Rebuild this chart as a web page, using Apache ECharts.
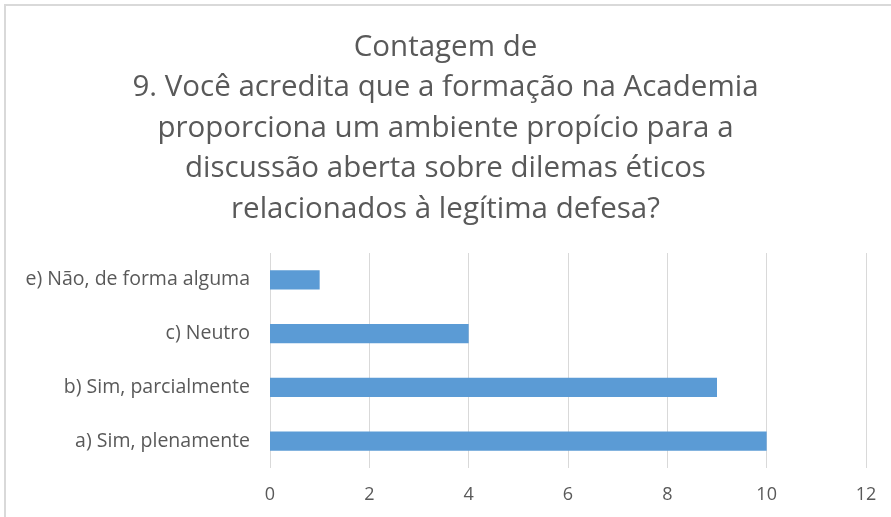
<!DOCTYPE html>
<html>
<head>
<meta charset="utf-8">
<script src="https://cdn.jsdelivr.net/npm/echarts@6/dist/echarts.min.js"></script>
<style>
html, body { margin:0; padding:0; background:#fff; overflow:hidden; }
#frame { position:absolute; left:4px; top:4px; width:900px; height:530px;
	border-left:2px solid #d9d9d9; border-top:2px solid #d9d9d9; }
#chart_panel { position:absolute; left:0; top:0; width:891px; height:517px; }
</style>
</head>
<body>
<div id="frame"></div>
<div id="chart_panel"></div>
<script>
var categories = ['a) Sim, plenamente', 'b) Sim, parcialmente', 'c) Neutro', 'e) Não, de forma alguma'];
var counts = [10, 9, 4, 1];
var xTicks = [0, 12, 2];  // min, max, interval

var titleText = 'Contagem de\n9. Você acredita que a formação na Academia\nproporciona um ambiente propício para a\ndiscussão aberta sobre dilemas éticos\nrelacionados à legítima defesa?';

var myChart = echarts.init(document.getElementById('chart_panel'));

var barChart = {
	animation: false,
	textStyle: { fontFamily: 'Open Sans' },
	title : {
		text: titleText,
		left: 'center',
		top: 22,
		textStyle: {
			fontFamily: 'Open Sans',
			fontSize: 29.5,
			fontWeight: 'normal',
			color: '#595959',
			lineHeight: 40.5
		}
	},
	grid: {
		left: 270,
		right: 25,
		top: 253,
		bottom: 49
	},
	xAxis : [
		{
			type : 'value',
			min: xTicks[0],
			max: xTicks[1],
			interval: xTicks[2],
			axisLine: { show: false },
			axisTick: { show: false },
			splitLine: { lineStyle: { color: '#d9d9d9', width: 1 } },
			axisLabel: { color: '#595959', fontSize: 18, margin: 18, fontFamily: 'Open Sans' }
		}
	],
	yAxis : [
		{
			type : 'category',
			data : categories,
			axisLine: { show: false },
			axisTick: { show: false },
			axisLabel: { color: '#595959', fontSize: 19.5, margin: 20, fontFamily: 'Open Sans' }
		}
	],
	series : [
		{
			type: 'bar',
			data: counts,
			barWidth: '36%',
			itemStyle: { color: '#5b9bd5' }
		}
	]
};
myChart.setOption(barChart, true);
window.onresize = myChart.resize;
</script>
</body>
</html>
